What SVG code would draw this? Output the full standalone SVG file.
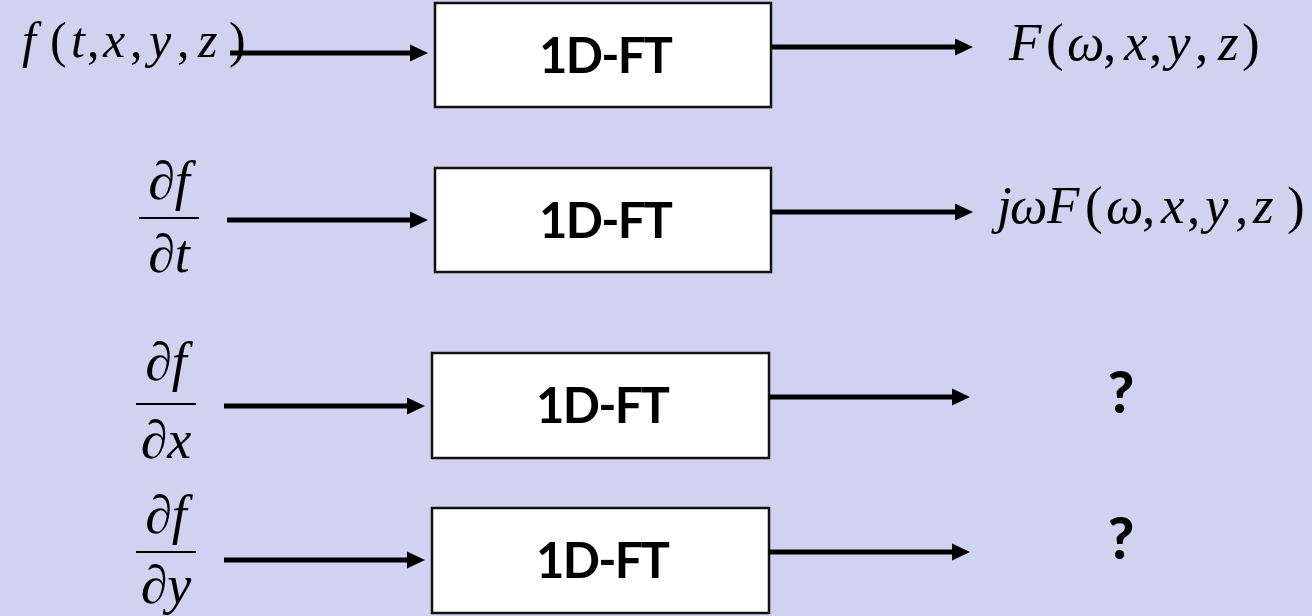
<svg xmlns="http://www.w3.org/2000/svg" width="1312" height="616" viewBox="0 0 1312 616">
<defs>
<marker id="ah" markerUnits="userSpaceOnUse" markerWidth="18" markerHeight="18" viewBox="0 0 18 18" refX="9" refY="9" orient="auto">
<path d="M0,0.5 L18,9 L0,17.5 z" fill="#000"/>
</marker>
</defs>
<style>
.bg{fill:#D1D2F0}
.box{fill:#fff;stroke:#111;stroke-width:2.5}
.lbl{font-family:Lato,"Open Sans","Liberation Sans",sans-serif;font-weight:bold;font-size:49px;fill:#000;text-anchor:middle}
.q{font-family:Lato,"Open Sans","Liberation Sans",sans-serif;font-weight:900;font-size:57px;fill:#000;text-anchor:middle}
.m{font-family:"Liberation Serif","Times New Roman",serif;fill:#000}
.i{font-style:italic}
.arr{stroke:#000;stroke-width:4.8;fill:none;marker-end:url(#ah)}
.fl{stroke:#000;stroke-width:2}
</style>
<rect class="bg" x="0" y="0" width="1312" height="616"/>

<g id="node-ft1"><rect class="box" x="435" y="3" width="336" height="104"/><text class="lbl" x="606" y="73" textLength="134" lengthAdjust="spacing">1D-FT</text></g>
<g id="node-ft2"><rect class="box" x="435" y="168" width="336" height="104"/><text class="lbl" x="606" y="238" textLength="134" lengthAdjust="spacing">1D-FT</text></g>
<g id="node-ft3"><rect class="box" x="432" y="353" width="337" height="105"/><text class="lbl" x="603" y="423" textLength="134" lengthAdjust="spacing">1D-FT</text></g>
<g id="node-ft4"><rect class="box" x="432" y="508" width="337" height="105"/><text class="lbl" x="603" y="578" textLength="134" lengthAdjust="spacing">1D-FT</text></g>

<g id="in-f">
<text class="m" font-size="50" y="57"><tspan class="i" x="22">f</tspan><tspan x="50">(</tspan><tspan class="i" x="71">t</tspan><tspan x="87">,</tspan><tspan class="i" x="103">x</tspan><tspan x="130">,</tspan><tspan class="i" x="149">y</tspan><tspan x="177">,</tspan><tspan class="i" x="198">z</tspan><tspan x="229">)</tspan></text>
</g>
<g id="in-dfdt">
<text class="m" font-size="54" x="169" y="199" text-anchor="middle">∂<tspan class="i">f</tspan></text>
<line class="fl" x1="139" y1="218" x2="199" y2="218"/>
<text class="m" font-size="54" x="169" y="272" text-anchor="middle">∂<tspan class="i">t</tspan></text>
</g>
<g id="in-dfdx">
<text class="m" font-size="54" x="166" y="380" text-anchor="middle">∂<tspan class="i">f</tspan></text>
<line class="fl" x1="136" y1="404" x2="196" y2="404"/>
<text class="m" font-size="54" x="166" y="458" text-anchor="middle">∂<tspan class="i">x</tspan></text>
</g>
<g id="in-dfdy">
<text class="m" font-size="54" x="166" y="533" text-anchor="middle">∂<tspan class="i">f</tspan></text>
<line class="fl" x1="136" y1="552" x2="196" y2="552"/>
<text class="m" font-size="54" x="166" y="603" text-anchor="middle">∂<tspan class="i">y</tspan></text>
</g>

<g id="out-F">
<text class="m" font-size="53" y="60"><tspan class="i" x="1009">F</tspan><tspan x="1046">(</tspan><tspan class="i" x="1067">ω</tspan><tspan x="1103">,</tspan><tspan class="i" x="1124">x</tspan><tspan x="1149">,</tspan><tspan class="i" x="1167">y</tspan><tspan x="1195">,</tspan><tspan class="i" x="1218">z</tspan><tspan x="1242">)</tspan></text>
</g>
<g id="out-jwF">
<text class="m" font-size="53" y="223"><tspan class="i" x="997">j</tspan><tspan class="i" x="1010">ω</tspan><tspan class="i" x="1047">F</tspan><tspan x="1085">(</tspan><tspan class="i" x="1106">ω</tspan><tspan x="1142">,</tspan><tspan class="i" x="1161">x</tspan><tspan x="1187">,</tspan><tspan class="i" x="1205">y</tspan><tspan x="1235">,</tspan><tspan class="i" x="1253">z</tspan><tspan x="1287">)</tspan></text>
</g>
<g id="out-q1"><text class="q" x="1121" y="413">?</text></g>
<g id="out-q2"><text class="q" x="1121" y="559">?</text></g>

<g id="connectors">
<line class="arr" x1="230" y1="53" x2="419" y2="53"/>
<line class="arr" x1="771" y1="47" x2="964" y2="47"/>
<line class="arr" x1="227" y1="220" x2="419" y2="220"/>
<line class="arr" x1="771" y1="212" x2="964" y2="212"/>
<line class="arr" x1="224" y1="406" x2="416" y2="406"/>
<line class="arr" x1="769" y1="397" x2="961" y2="397"/>
<line class="arr" x1="224" y1="560" x2="416" y2="560"/>
<line class="arr" x1="769" y1="552" x2="961" y2="552"/>
</g>
</svg>
